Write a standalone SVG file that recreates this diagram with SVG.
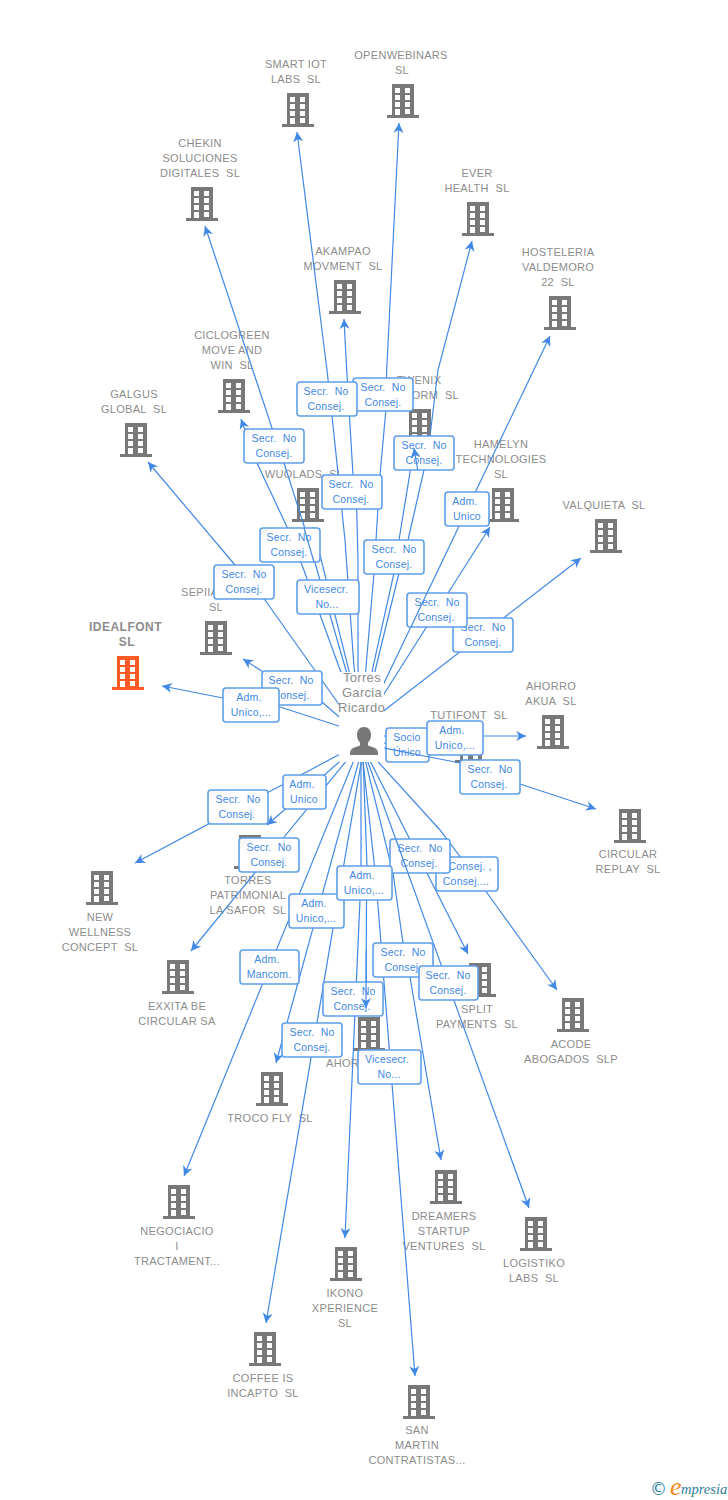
<svg xmlns="http://www.w3.org/2000/svg" width="728" height="1500" viewBox="0 0 728 1500" xml:space="preserve">
<style>
text{font-family:"Liberation Sans",Arial,sans-serif;white-space:pre}
.n{font-size:11px;fill:#8c8c8c;text-anchor:middle;letter-spacing:.3px}
.s{font-size:11px;fill:#8c8c8c;letter-spacing:.3px}
.nb{font-size:12px;font-weight:bold;fill:#8c8c8c;text-anchor:middle;letter-spacing:.5px}
.p{font-size:13px;fill:#8c8c8c;text-anchor:middle;letter-spacing:.3px}
.b{fill:#787878}
.o{fill:#ff5a26}
.e{fill:none;stroke:#4188e6;stroke-width:1.2;marker-end:url(#a)}
.f{fill:none;stroke:#4188e6;stroke-width:1.2}
.lb rect{fill:url(#g);stroke:#5f9eea;stroke-width:1.6}
.lb text{font-size:10.5px;fill:#4188e6;text-anchor:middle;letter-spacing:.2px}
</style>
<defs>
<linearGradient id="g" x1="0" y1="0" x2="1" y2="1"><stop offset="0" stop-color="#f1f1f1"/><stop offset=".25" stop-color="#fff"/><stop offset="1" stop-color="#fff"/></linearGradient>
<marker id="a" markerUnits="userSpaceOnUse" markerWidth="12" markerHeight="12" refX="10" refY="5" orient="auto" overflow="visible"><path d="M0 0L10 5L0 10L3 5Z" fill="#4188e6"/></marker>
<clipPath id="c"><path clip-rule="evenodd" d="M0 0H728V1500H0ZM339 672H384V762H339Z"/></clipPath>
<path id="t" fill-rule="evenodd" d="M-11 0H11V31H16V34H-16V31H-11ZM-8 4V9H-3V4ZM2 4V9H7V4ZM-8 11V16H-3V11ZM2 11V16H7V11ZM-8 18V23H-3V18ZM2 18V23H7V18ZM-8 25V31H-3V25ZM2 25V30H7V25Z"/>
</defs>

<g id="n-smart"><use href="#t" class="b" x="298" y="93"/><text class="n" y="68"><tspan x="296">SMART IOT</tspan><tspan x="296" dy="15">LABS  SL</tspan></text></g>
<g id="n-openwebinars"><use href="#t" class="b" x="403" y="84"/><text class="n" y="59"><tspan x="401">OPENWEBINARS</tspan><tspan x="402" dy="15">SL</tspan></text></g>
<g id="n-chekin"><use href="#t" class="b" x="202" y="187"/><text class="n" y="147"><tspan x="200">CHEKIN</tspan><tspan x="200" dy="15">SOLUCIONES</tspan><tspan x="200" dy="15">DIGITALES  SL</tspan></text></g>
<g id="n-ever"><use href="#t" class="b" x="478" y="202"/><text class="n" y="177"><tspan x="477">EVER</tspan><tspan x="477" dy="15">HEALTH  SL</tspan></text></g>
<g id="n-akampao"><use href="#t" class="b" x="345" y="280"/><text class="n" y="255"><tspan x="343">AKAMPAO</tspan><tspan x="343" dy="15">MOVMENT  SL</tspan></text></g>
<g id="n-hosteleria"><use href="#t" class="b" x="560" y="296"/><text class="n" y="256"><tspan x="558">HOSTELERIA</tspan><tspan x="558" dy="15">VALDEMORO</tspan><tspan x="558" dy="15">22  SL</tspan></text></g>
<g id="n-ciclogreen"><use href="#t" class="b" x="234" y="379"/><text class="n" y="339"><tspan x="232">CICLOGREEN</tspan><tspan x="232" dy="15">MOVE AND</tspan><tspan x="232" dy="15">WIN  SL</tspan></text></g>
<g id="n-twenix"><use href="#t" class="b" x="420" y="409"/><text class="n" y="384"><tspan x="419">TWENIX</tspan></text><text class="s" y="399" x="459" text-anchor="end">FORM  SL</text></g>
<g id="n-galgus"><use href="#t" class="b" x="136" y="423"/><text class="n" y="398"><tspan x="134">GALGUS</tspan><tspan x="134" dy="15">GLOBAL  SL</tspan></text></g>
<g id="n-wuolads"><use href="#t" class="b" x="308" y="488"/><text class="n" y="478" x="304">WUOLADS  SL</text></g>
<g id="n-hamelyn"><use href="#t" class="b" x="503" y="488"/><text class="n" y="448"><tspan x="501">HAMELYN</tspan><tspan x="501" dy="15">TECHNOLOGIES</tspan><tspan x="501" dy="15">SL</tspan></text></g>
<g id="n-valquieta"><use href="#t" class="b" x="606" y="519"/><text class="n" y="509" x="604">VALQUIETA  SL</text></g>
<g id="n-sepiia"><use href="#t" class="b" x="216" y="621"/><text class="s" y="596" x="181">SEPIIA</text><text class="n" y="611" x="216">SL</text></g>
<g id="n-idealfont"><use href="#t" class="o" x="128" y="656"/><text class="nb" y="631"><tspan x="125.500">IDEALFONT</tspan><tspan x="127" dy="15">SL</tspan></text></g>
<g id="n-akua"><use href="#t" class="b" x="553" y="715"/><text class="n" y="690"><tspan x="551">AHORRO</tspan><tspan x="551" dy="15">AKUA  SL</tspan></text></g>
<g id="n-tutifont"><use href="#t" class="b" x="471" y="729"/><text class="n" y="719" x="469">TUTIFONT  SL</text></g>
<g id="n-circular"><use href="#t" class="b" x="630" y="809"/><text class="n" y="858"><tspan x="628">CIRCULAR</tspan><tspan x="628" dy="15">REPLAY  SL</tspan></text></g>
<g id="n-wellness"><use href="#t" class="b" x="102" y="871"/><text class="n" y="921"><tspan x="100">NEW</tspan><tspan x="100" dy="15">WELLNESS</tspan><tspan x="100" dy="15">CONCEPT  SL</tspan></text></g>
<g id="n-torres"><use href="#t" class="b" x="250" y="835"/><text class="n" y="884"><tspan x="248">TORRES</tspan><tspan x="248" dy="15">PATRIMONIAL</tspan><tspan x="248" dy="15">LA SAFOR  SL</tspan></text></g>
<g id="n-exxita"><use href="#t" class="b" x="178" y="960"/><text class="n" y="1010"><tspan x="177">EXXITA BE</tspan><tspan x="177" dy="15">CIRCULAR SA</tspan></text></g>
<g id="n-acode"><use href="#t" class="b" x="573" y="998"/><text class="n" y="1048"><tspan x="571">ACODE</tspan><tspan x="571" dy="15">ABOGADOS  SLP</tspan></text></g>
<g id="n-split"><use href="#t" class="b" x="480" y="963"/><text class="n" y="1013"><tspan x="477">SPLIT</tspan><tspan x="477" dy="15">PAYMENTS  SL</tspan></text></g>
<g id="n-ahor"><use href="#t" class="b" x="369" y="1017"/><text class="s" y="1067" x="326">AHOR</text></g>
<g id="n-troco"><use href="#t" class="b" x="272" y="1072"/><text class="n" y="1122" x="270">TROCO FLY  SL</text></g>
<g id="n-negociacio"><use href="#t" class="b" x="179" y="1185"/><text class="n" y="1235"><tspan x="177">NEGOCIACIO</tspan><tspan x="177" dy="15">I</tspan><tspan x="177" dy="15">TRACTAMENT...</tspan></text></g>
<g id="n-dreamers"><use href="#t" class="b" x="446" y="1170"/><text class="n" y="1220"><tspan x="444">DREAMERS</tspan><tspan x="444" dy="15">STARTUP</tspan><tspan x="444" dy="15">VENTURES  SL</tspan></text></g>
<g id="n-logistiko"><use href="#t" class="b" x="536" y="1217"/><text class="n" y="1267"><tspan x="534">LOGISTIKO</tspan><tspan x="534" dy="15">LABS  SL</tspan></text></g>
<g id="n-ikono"><use href="#t" class="b" x="346" y="1247"/><text class="n" y="1297"><tspan x="345">IKONO</tspan><tspan x="345" dy="15">XPERIENCE</tspan><tspan x="345" dy="15">SL</tspan></text></g>
<g id="n-coffee"><use href="#t" class="b" x="265" y="1332"/><text class="n" y="1382"><tspan x="263">COFFEE IS</tspan><tspan x="263" dy="15">INCAPTO  SL</tspan></text></g>
<g id="n-sanmartin"><use href="#t" class="b" x="419" y="1385"/><text class="n" y="1434"><tspan x="417">SAN</tspan><tspan x="417" dy="15">MARTIN</tspan><tspan x="417" dy="15">CONTRATISTAS...</tspan></text></g>
<g id="n-person"><path class="b" d="M364 727c4.500 0 7 3.500 7 8 0 3-1 5.500-3 7.500v3l7 2.500c2 1 3 3 3 6v1h-28v-1c0-3 1-5 3-6l7-2.500v-3c-2-2-3-4.500-3-7.500 0-4.500 2.500-8 7-8z"/><text class="p" y="682"><tspan x="362">Torres</tspan><tspan x="362" dy="15">Garcia</tspan><tspan x="361.500" dy="15">Ricardo</tspan></text></g>

<g id="connectors" clip-path="url(#c)">
<path class="e" d="M363 727L354 667L345 540L332 416L327 370L297 132"/>
<path class="e" d="M363 727L366 667L374 573L376 540L380 475L385.700 412L386.700 370L399 123"/>
<path class="e" d="M363 727L345 667L307 535L284 463L272 428L205 226"/>
<path class="e" d="M363 727L376 667L399 573L408 540L424 470L430 436L438 370L472 241"/>
<path class="e" d="M361 727L358 667L358 560L356.700 510L353 475L346.700 370L344 319"/>
<path class="e" d="M363 727L550 336"/>
<path class="e" d="M363 727L339 667L302 565L287 527L257 463L241 419"/>
<path class="e" d="M363 727L373 667L394 573L399 540L414 448"/>
<path class="e" d="M345 713L338 703L265 600L235 565L148 462"/>
<path class="e" d="M363 727L313 527"/>
<path class="e" d="M363 727L490 527"/>
<path class="e" d="M363 727L581 558"/>
<path class="e" d="M345 722L321.700 701.700L261.700 671L243 659"/>
<path class="e" d="M345 728L280 707L223 698L162 686"/>
<path class="e" d="M364 736L526 736"/>
<path class="e" d="M364 742L440 746"/>
<path class="e" d="M364 744L460 763L520 784L596 809"/>
<path class="e" d="M361 743L135 863"/>
<path class="e" d="M361 743L267 825"/>
<path class="e" d="M361 743L191 951"/>
<path class="e" d="M361 743L440 830L485 890L557 990"/>
<path class="e" d="M361 743L468 954"/>
<path class="e" d="M362.500 743L367 866L366.500 900L366 1008"/>
<path class="e" d="M363.800 743L276 1063"/>
<path class="e" d="M361 743L184 1176"/>
<path class="e" d="M361 743L393 873L403 943L410 977L441 1160"/>
<path class="e" d="M361 743L529 1208"/>
<path class="e" d="M361 743L361 866L360 900L345 1238"/>
<path class="e" d="M364.500 743L266 1323"/>
<path class="e" d="M361 743L376 880L415 1376"/>
</g>

<g id="edge-labels" class="lb">
<g id="l1"><rect x="353" y="378" width="60" height="33" rx="3"/><text y="391"><tspan x="383">Secr.  No</tspan><tspan x="383" dy="15">Consej.</tspan></text></g>
<g id="l2"><rect x="297" y="382" width="60" height="34" rx="3"/><text y="395"><tspan x="326">Secr.  No</tspan><tspan x="326" dy="15">Consej.</tspan></text></g>
<g id="l3"><rect x="244" y="429" width="60" height="34" rx="3"/><text y="442"><tspan x="274">Secr.  No</tspan><tspan x="274" dy="15">Consej.</tspan></text></g>
<g id="l4"><rect x="394" y="436" width="60" height="34" rx="3"/><text y="449"><tspan x="424">Secr.  No</tspan><tspan x="424" dy="15">Consej.</tspan></text></g>
<g id="l5"><rect x="322" y="475" width="60" height="34" rx="3"/><text y="488"><tspan x="351">Secr.  No</tspan><tspan x="351" dy="15">Consej.</tspan></text></g>
<g id="l6"><rect x="445" y="492" width="44" height="34" rx="3"/><text y="505"><tspan x="465">Adm.</tspan><tspan x="467" dy="15">Unico</tspan></text></g>
<g id="l7"><rect x="260" y="528" width="60" height="34" rx="3"/><text y="541"><tspan x="289">Secr.  No</tspan><tspan x="289" dy="15">Consej.</tspan></text></g>
<g id="l8"><rect x="364" y="540" width="60" height="34" rx="3"/><text y="553"><tspan x="394">Secr.  No</tspan><tspan x="394" dy="15">Consej.</tspan></text></g>
<g id="l9"><rect x="297" y="580" width="62" height="34" rx="3"/><text y="593"><tspan x="326">Vicesecr.</tspan><tspan x="327" dy="15">No...</tspan></text></g>
<g id="l10"><rect x="214" y="565" width="60" height="34" rx="3"/><text y="578"><tspan x="244">Secr.  No</tspan><tspan x="244" dy="15">Consej.</tspan></text></g>
<g id="l12"><rect x="453" y="618" width="60" height="34" rx="3"/><text y="631"><tspan x="483">Secr.  No</tspan><tspan x="483" dy="15">Consej.</tspan></text></g>
<g id="l11"><rect x="407" y="593" width="60" height="34" rx="3"/><text y="606"><tspan x="437">Secr.  No</tspan><tspan x="436" dy="15">Consej.</tspan></text></g>
<g id="l13"><rect x="262" y="671" width="60" height="34" rx="3"/><text y="684"><tspan x="291">Secr.  No</tspan><tspan x="291" dy="15">Consej.</tspan></text></g>
<g id="l14"><rect x="223" y="688" width="56" height="34" rx="3"/><text y="701"><tspan x="249">Adm.</tspan><tspan x="251" dy="15">Unico,...</tspan></text></g>
<g id="l15"><rect x="386" y="728" width="43" height="34" rx="3"/><text y="741"><tspan x="407">Socio</tspan><tspan x="407" dy="15">Único</tspan></text></g>
<g id="l16"><rect x="427" y="721" width="56" height="34" rx="3"/><text y="734"><tspan x="452">Adm.</tspan><tspan x="455" dy="15">Unico,...</tspan></text></g>
<g id="l17"><rect x="460" y="760" width="60" height="34" rx="3"/><text y="773"><tspan x="490">Secr.  No</tspan><tspan x="489" dy="15">Consej.</tspan></text></g>
<g id="l19"><rect x="208" y="790" width="60" height="34" rx="3"/><text y="803"><tspan x="238">Secr.  No</tspan><tspan x="237" dy="15">Consej.</tspan></text></g>
<g id="l18"><rect x="283" y="775" width="43" height="34" rx="3"/><text y="788"><tspan x="302">Adm.</tspan><tspan x="304" dy="15">Unico</tspan></text></g>
<g id="l20"><rect x="239" y="838" width="60" height="34" rx="3"/><text y="851"><tspan x="269">Secr.  No</tspan><tspan x="269" dy="15">Consej.</tspan></text></g>
<g id="l22"><rect x="436" y="857" width="62" height="34" rx="3"/><text y="870"><tspan x="470">Consej. ,</tspan><tspan x="466" dy="15">Consej....</tspan></text></g>
<g id="l21"><rect x="390" y="839" width="60" height="34" rx="3"/><text y="852"><tspan x="420">Secr.  No</tspan><tspan x="419" dy="15">Consej.</tspan></text></g>
<g id="l24"><rect x="289" y="894" width="55" height="34" rx="3"/><text y="907"><tspan x="314">Adm.</tspan><tspan x="316" dy="15">Unico,...</tspan></text></g>
<g id="l23"><rect x="337" y="866" width="55" height="34" rx="3"/><text y="879"><tspan x="362">Adm.</tspan><tspan x="364" dy="15">Unico,...</tspan></text></g>
<g id="l25"><rect x="240" y="950" width="59" height="34" rx="3"/><text y="963"><tspan x="267">Adm.</tspan><tspan x="269" dy="15">Mancom.</tspan></text></g>
<g id="l26"><rect x="373" y="943" width="60" height="34" rx="3"/><text y="956"><tspan x="403">Secr.  No</tspan><tspan x="403" dy="15">Consej.</tspan></text></g>
<g id="l27"><rect x="419" y="966" width="59" height="34" rx="3"/><text y="979"><tspan x="448">Secr.  No</tspan><tspan x="448" dy="15">Consej.</tspan></text></g>
<g id="l28"><rect x="323" y="982" width="60" height="34" rx="3"/><text y="995"><tspan x="353">Secr.  No</tspan><tspan x="352" dy="15">Consej.</tspan></text></g>
<g id="l29"><rect x="282" y="1023" width="60" height="34" rx="3"/><text y="1036"><tspan x="312">Secr.  No</tspan><tspan x="312" dy="15">Consej.</tspan></text></g>
<g id="l30"><rect x="358" y="1050" width="63" height="34" rx="3"/><text y="1063"><tspan x="387">Vicesecr.</tspan><tspan x="389" dy="15">No...</tspan></text></g>
</g>

<g id="connectors-over">
<path class="e" d="M417.700 470L414 448"/>
<path class="f" d="M304 528L314 562"/>
<path class="e" d="M366.300 950L366 1008"/>
<path class="f" d="M411 627L427 593"/>
<path class="f" d="M395.700 839L408 873"/>
<path class="f" d="M386 748.400L429 757"/>
</g>

<g id="logo">
<text x="650" y="1495" font-size="17" fill="#2e7d9a" style="font-family:'DejaVu Sans',sans-serif">©</text>
<text x="670" y="1495" font-size="26" fill="#f08a1d" font-style="italic" style="font-family:'Liberation Serif',serif">e</text>
<text x="681" y="1494" font-size="14.500" fill="#2e7d9a" font-style="italic" style="font-family:'Liberation Serif',serif">mpresia</text>
</g>
</svg>
